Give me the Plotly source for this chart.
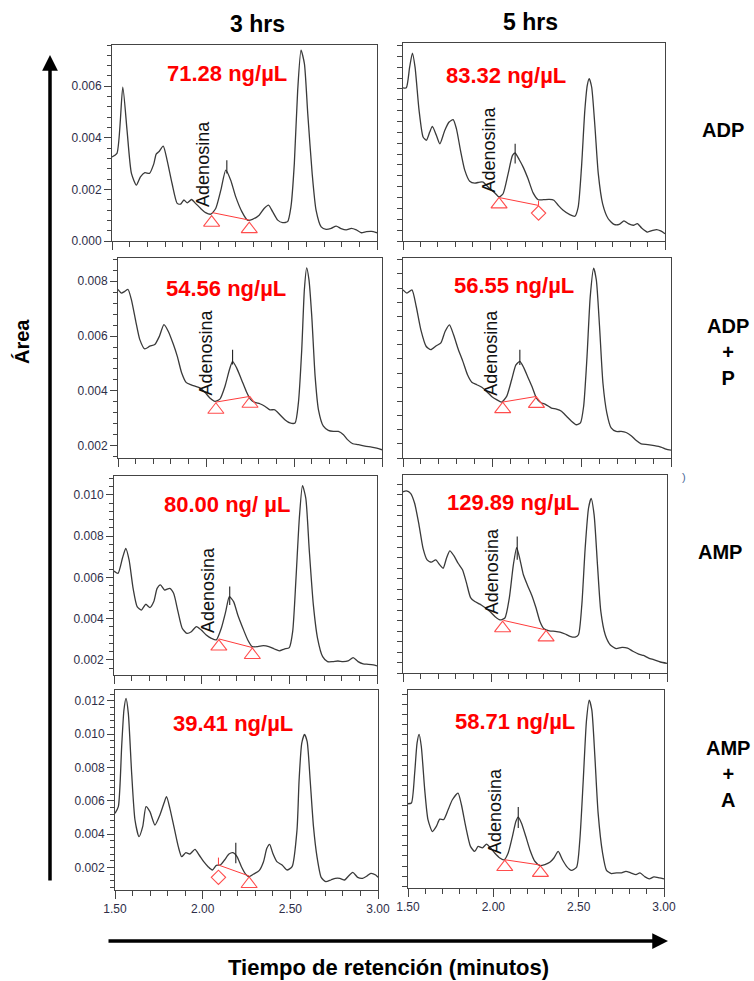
import plotly.graph_objects as go

W, H = 754, 981
FONT = "Arial, Liberation Sans, sans-serif"

# ---------------- data ----------------
col_titles = ["3 hrs", "5 hrs"]
row_titles = ["ADP", "ADP<br>+<br>P", "AMP", "AMP<br>+<br>A"]
concentrations = ["71.28 ng/µL", "83.32 ng/µL", "54.56 ng/µL", "56.55 ng/µL",
                  "80.00 ng/ µL", "129.89 ng/µL", "39.41 ng/µL", "58.71 ng/µL"]
peak_name = "Adenosina"
x_tick_vals = [1.5, 2.0, 2.5, 3.0]

# chromatograms: (retention time [min], area/absorbance)
adp_3h = [(1.50, 0.00326), (1.528, 0.0034), (1.561, 0.00597), (1.585, 0.0043), (1.61, 0.00262),
          (1.638, 0.00217), (1.661, 0.00249), (1.686, 0.00265), (1.712, 0.00262), (1.737, 0.0030),
          (1.75, 0.00337), (1.765, 0.00346), (1.79, 0.00368), (1.812, 0.00313), (1.84, 0.00223),
          (1.869, 0.00146), (1.888, 0.00143), (1.907, 0.00159), (1.926, 0.00148), (1.95, 0.00161),
          (1.973, 0.00146), (2.002, 0.00126), (2.03, 0.0011), (2.059, 0.00104), (2.087, 0.00126),
          (2.116, 0.00197), (2.144, 0.00275), (2.172, 0.00236), (2.2, 0.00172), (2.235, 0.00114),
          (2.267, 0.00081), (2.295, 0.00084), (2.333, 0.0010), (2.361, 0.00126), (2.386, 0.00139),
          (2.409, 0.00114), (2.438, 0.00081), (2.466, 0.00071), (2.494, 0.00075), (2.513, 0.00133),
          (2.532, 0.0030), (2.551, 0.00584), (2.57, 0.0074), (2.589, 0.00688), (2.608, 0.00494),
          (2.633, 0.00262), (2.655, 0.0012), (2.684, 0.00055), (2.712, 0.00045), (2.741, 0.00049),
          (2.769, 0.00058), (2.797, 0.00048), (2.826, 0.00043), (2.855, 0.00049), (2.883, 0.00043),
          (2.911, 0.00032), (2.94, 0.00036), (2.968, 0.00037), (3.0, 0.00032)]

adp_5h = [(1.5, 0.00604), (1.519, 0.00604), (1.538, 0.0068), (1.554, 0.00732), (1.569, 0.0068),
          (1.592, 0.00521), (1.615, 0.00423), (1.634, 0.00411), (1.653, 0.00441), (1.668, 0.00462),
          (1.691, 0.00429), (1.711, 0.00398), (1.739, 0.00447), (1.764, 0.00478), (1.787, 0.00487),
          (1.806, 0.00453), (1.829, 0.00374), (1.854, 0.0030), (1.882, 0.0026), (1.911, 0.00253),
          (1.94, 0.00257), (1.959, 0.00257), (1.978, 0.00245), (1.997, 0.00233), (2.026, 0.00217),
          (2.05, 0.00202), (2.073, 0.00214), (2.102, 0.00288), (2.127, 0.00355), (2.142, 0.00364),
          (2.165, 0.0034), (2.188, 0.00312), (2.216, 0.00269), (2.245, 0.00217), (2.274, 0.00192),
          (2.303, 0.00192), (2.337, 0.00193), (2.364, 0.0019), (2.389, 0.00171), (2.417, 0.00153),
          (2.455, 0.00137), (2.484, 0.00131), (2.503, 0.00165), (2.522, 0.00312), (2.541, 0.00521),
          (2.555, 0.00613), (2.566, 0.00638), (2.58, 0.00607), (2.599, 0.0046), (2.618, 0.00288),
          (2.643, 0.00177), (2.675, 0.00122), (2.708, 0.00101), (2.738, 0.00101), (2.765, 0.00114),
          (2.79, 0.00104), (2.819, 0.00098), (2.842, 0.00104), (2.866, 0.00088), (2.899, 0.00073),
          (2.929, 0.00079), (2.952, 0.00082), (2.975, 0.00077), (3.0, 0.00067)]

adpp_3h = [(1.5, 0.0077), (1.519, 0.00757), (1.538, 0.00763), (1.557, 0.0077), (1.576, 0.00733),
           (1.601, 0.00654), (1.624, 0.00587), (1.652, 0.00553), (1.681, 0.00563), (1.709, 0.00569),
           (1.735, 0.00599), (1.761, 0.00642), (1.786, 0.00617), (1.815, 0.00569), (1.837, 0.00526),
           (1.862, 0.00465), (1.887, 0.00431), (1.913, 0.00423), (1.938, 0.00417), (1.965, 0.00411),
           (1.994, 0.00395), (2.022, 0.00374), (2.051, 0.00362), (2.079, 0.0037), (2.108, 0.00417),
           (2.133, 0.00477), (2.151, 0.00508), (2.174, 0.00484), (2.202, 0.00441), (2.229, 0.00398),
           (2.252, 0.0037), (2.277, 0.00358), (2.306, 0.00353), (2.334, 0.00344), (2.363, 0.00331),
           (2.391, 0.00331), (2.42, 0.00313), (2.448, 0.00295), (2.477, 0.00283), (2.506, 0.00283),
           (2.525, 0.00356), (2.544, 0.0055), (2.559, 0.0077), (2.572, 0.00849), (2.585, 0.00806),
           (2.601, 0.00672), (2.62, 0.00453), (2.639, 0.00331), (2.667, 0.00271), (2.695, 0.00256),
           (2.724, 0.00252), (2.752, 0.00252), (2.781, 0.0024), (2.804, 0.00222), (2.834, 0.00207),
           (2.866, 0.00204), (2.903, 0.00198), (2.941, 0.00195), (2.97, 0.00191), (3.0, 0.00185)]

adpp_5h = [(1.5, 0.00635), (1.522, 0.00626), (1.55, 0.00635), (1.574, 0.00588), (1.6, 0.00522),
           (1.63, 0.00475), (1.656, 0.00466), (1.686, 0.00477), (1.712, 0.00485), (1.736, 0.00518),
           (1.76, 0.00536), (1.783, 0.00508), (1.81, 0.00466), (1.835, 0.00433), (1.861, 0.00395),
           (1.885, 0.00374), (1.913, 0.00367), (1.941, 0.0036), (1.968, 0.00348), (1.996, 0.00334),
           (2.024, 0.00325), (2.052, 0.00318), (2.08, 0.00334), (2.108, 0.00381), (2.132, 0.00423),
           (2.154, 0.00433), (2.177, 0.00414), (2.201, 0.00386), (2.225, 0.00358), (2.247, 0.00329),
           (2.27, 0.00317), (2.299, 0.00311), (2.331, 0.00301), (2.359, 0.00298), (2.387, 0.00292),
           (2.415, 0.00278), (2.443, 0.00264), (2.47, 0.00254), (2.493, 0.00259), (2.511, 0.00306),
           (2.53, 0.00447), (2.548, 0.00616), (2.567, 0.00696), (2.582, 0.00663), (2.6, 0.00532),
           (2.619, 0.00372), (2.641, 0.00287), (2.665, 0.00245), (2.693, 0.00235), (2.721, 0.00235),
           (2.749, 0.00232), (2.777, 0.00223), (2.804, 0.0021), (2.833, 0.002), (2.87, 0.00198),
           (2.907, 0.00195), (2.944, 0.00191), (2.972, 0.00185), (3.0, 0.00182)]

amp_3h = [(1.5, 0.00631), (1.523, 0.0062), (1.548, 0.00693), (1.567, 0.00741), (1.586, 0.00685),
          (1.609, 0.00547), (1.632, 0.00459), (1.656, 0.00442), (1.681, 0.0047), (1.705, 0.00454),
          (1.727, 0.00483), (1.746, 0.00547), (1.765, 0.00564), (1.789, 0.00539), (1.818, 0.00547),
          (1.84, 0.00523), (1.865, 0.00434), (1.889, 0.00354), (1.916, 0.00329), (1.941, 0.00337),
          (1.97, 0.00362), (1.998, 0.00345), (2.026, 0.00321), (2.055, 0.00305), (2.083, 0.00297),
          (2.112, 0.00354), (2.137, 0.00434), (2.158, 0.00507), (2.182, 0.00483), (2.206, 0.00418),
          (2.235, 0.00354), (2.263, 0.00297), (2.288, 0.00265), (2.32, 0.00265), (2.352, 0.00269),
          (2.383, 0.00265), (2.415, 0.00253), (2.443, 0.00244), (2.471, 0.00253), (2.5, 0.0026),
          (2.519, 0.00337), (2.538, 0.00596), (2.557, 0.00887), (2.575, 0.01045), (2.594, 0.00984),
          (2.613, 0.00741), (2.637, 0.00467), (2.661, 0.00305), (2.69, 0.00216), (2.718, 0.00192),
          (2.747, 0.00192), (2.777, 0.00195), (2.806, 0.00192), (2.835, 0.00195), (2.864, 0.00211),
          (2.892, 0.00192), (2.921, 0.00181), (2.95, 0.00179), (2.979, 0.00176), (3.0, 0.00171)]

amp_5h = [(1.5, 0.00812), (1.519, 0.00815), (1.543, 0.00806), (1.566, 0.00768), (1.591, 0.00685),
          (1.614, 0.00596), (1.637, 0.00552), (1.661, 0.00543), (1.686, 0.00552), (1.709, 0.00533),
          (1.728, 0.0052), (1.747, 0.00558), (1.766, 0.00586), (1.789, 0.00568), (1.813, 0.00539),
          (1.838, 0.00514), (1.861, 0.00463), (1.884, 0.00408), (1.908, 0.00393), (1.937, 0.00383),
          (1.965, 0.0037), (1.994, 0.00355), (2.022, 0.00336), (2.051, 0.00323), (2.079, 0.0033),
          (2.104, 0.00406), (2.127, 0.00533), (2.146, 0.00599), (2.165, 0.00552), (2.184, 0.00495),
          (2.206, 0.00457), (2.231, 0.00418), (2.256, 0.00368), (2.278, 0.00317), (2.301, 0.00289),
          (2.332, 0.00281), (2.364, 0.00279), (2.392, 0.00276), (2.421, 0.00269), (2.449, 0.0026),
          (2.478, 0.00257), (2.497, 0.00266), (2.516, 0.0038), (2.535, 0.00596), (2.554, 0.00749),
          (2.569, 0.00787), (2.586, 0.00723), (2.605, 0.00533), (2.624, 0.00355), (2.649, 0.00266),
          (2.677, 0.00228), (2.711, 0.00213), (2.744, 0.00218), (2.776, 0.00215), (2.806, 0.00203),
          (2.839, 0.00192), (2.867, 0.00187), (2.896, 0.00177), (2.924, 0.00171), (2.962, 0.00162),
          (3.0, 0.00157)]

ampa_3h = [(1.5, 0.00524), (1.519, 0.00564), (1.538, 0.00924), (1.551, 0.01144), (1.563, 0.01214),
           (1.576, 0.01124), (1.595, 0.00764), (1.614, 0.00484), (1.637, 0.00384), (1.658, 0.00444),
           (1.677, 0.00564), (1.699, 0.00534), (1.728, 0.00454), (1.756, 0.00514), (1.779, 0.00584),
           (1.794, 0.00624), (1.813, 0.00554), (1.836, 0.00444), (1.861, 0.00324), (1.88, 0.00264),
           (1.904, 0.00288), (1.927, 0.0028), (1.956, 0.00308), (1.98, 0.00274), (2.006, 0.00234),
           (2.031, 0.00204), (2.055, 0.00184), (2.078, 0.00212), (2.101, 0.00214), (2.125, 0.00244),
           (2.15, 0.0028), (2.173, 0.00288), (2.196, 0.00264), (2.221, 0.00204), (2.246, 0.00158),
           (2.265, 0.00144), (2.291, 0.0016), (2.322, 0.0018), (2.347, 0.00234), (2.366, 0.00314),
           (2.382, 0.00338), (2.4, 0.00284), (2.423, 0.00234), (2.453, 0.00214), (2.481, 0.00184),
           (2.51, 0.00204), (2.538, 0.00424), (2.55, 0.00724), (2.565, 0.00944), (2.581, 0.00998),
           (2.596, 0.00954), (2.613, 0.00724), (2.632, 0.00444), (2.652, 0.00264), (2.676, 0.0014),
           (2.702, 0.00114), (2.731, 0.00124), (2.757, 0.00134), (2.782, 0.00134), (2.81, 0.00124),
           (2.832, 0.00148), (2.856, 0.0017), (2.884, 0.0014), (2.912, 0.00134), (2.937, 0.00148),
           (2.959, 0.00164), (2.987, 0.00154), (3.0, 0.0014)]

ampa_5h = [(1.5, 0.00327), (1.52, 0.0033), (1.539, 0.00448), (1.553, 0.00567), (1.565, 0.00602),
           (1.578, 0.00554), (1.598, 0.00382), (1.617, 0.00264), (1.643, 0.00217), (1.666, 0.00237),
           (1.686, 0.00266), (1.709, 0.00264), (1.735, 0.00303), (1.76, 0.00343), (1.793, 0.00369),
           (1.813, 0.00323), (1.838, 0.00237), (1.866, 0.00158), (1.891, 0.00138), (1.911, 0.00158),
           (1.936, 0.00152), (1.96, 0.00167), (1.983, 0.00152), (2.008, 0.00132), (2.038, 0.00112),
           (2.063, 0.00105), (2.087, 0.00132), (2.112, 0.00198), (2.132, 0.00257), (2.146, 0.00274),
           (2.165, 0.0025), (2.19, 0.00198), (2.214, 0.00145), (2.243, 0.00099), (2.273, 0.00082),
           (2.302, 0.00086), (2.331, 0.00095), (2.355, 0.00112), (2.38, 0.00138), (2.405, 0.00105),
           (2.429, 0.00079), (2.458, 0.00063), (2.488, 0.00076), (2.507, 0.00185), (2.527, 0.00422),
           (2.546, 0.00659), (2.562, 0.00738), (2.577, 0.00699), (2.595, 0.00514), (2.614, 0.0029),
           (2.64, 0.00132), (2.663, 0.00063), (2.692, 0.0005), (2.722, 0.00053), (2.751, 0.00053),
           (2.777, 0.00059), (2.805, 0.00053), (2.836, 0.00046), (2.859, 0.00053), (2.889, 0.00037),
           (2.914, 0.00029), (2.941, 0.00037), (2.973, 0.00033), (3.0, 0.00029)]

# integration baselines (start point, end point)
baselines = [
    [(2.068, 0.0011), (2.277, 0.00081)],
    [(2.05, 0.0020), (2.276, 0.00171)],
    [(2.056, 0.00359), (2.25, 0.0038)],
    [(2.058, 0.00318), (2.247, 0.00334)],
    [(2.098, 0.00302), (2.289, 0.0026)],
    [(2.07, 0.00321), (2.307, 0.00285)],
    [(2.09, 0.00214), (2.265, 0.00148)],
    [(2.067, 0.00105), (2.276, 0.00084)],
]
# start / end event markers
event_marks = [
    [(2.064, 0.00071), (2.277, 0.00046)],
    [(2.05, 0.00175), (2.276, 0.00143)],
    [(2.056, 0.00331), (2.25, 0.00353)],
    [(2.058, 0.00298), (2.247, 0.00313)],
    [(2.098, 0.00265), (2.289, 0.00224)],
    [(2.066, 0.00291), (2.313, 0.00256)],
    [(2.09, 0.0014), (2.265, 0.0010)],
    [(2.067, 0.00076), (2.276, 0.00053)],
]
# apex tick: (time, low, high)
apex_ticks = [(2.15, 0.00262, 0.00313), (2.142, 0.00325, 0.00398), (2.151, 0.00496, 0.0055),
              (2.154, 0.00423, 0.00466), (2.16, 0.00467, 0.00556), (2.149, 0.00552, 0.00641),
              (2.189, 0.00224, 0.00348), (2.146, 0.00231, 0.00314)]

curves = [adp_3h, adp_5h, adpp_3h, adpp_5h, amp_3h, amp_5h, ampa_3h, ampa_5h]

# ---------------- layout settings (page pixels) ----------------
boxes = [(112, 377, 45, 241), (403, 665, 43, 241),
         (118, 382, 258, 458), (403, 671, 258, 458),
         (114, 377, 476, 675), (403, 667, 475, 673),
         (115, 378, 690, 890), (408, 664, 690, 888)]
y_ranges = [(0.0, 0.0076), (0.0004, 0.00769), (0.00155, 0.00885), (0.0016, 0.00725),
            (0.00127, 0.01092), (0.0012, 0.00876), (0.00064, 0.01264), (-0.00007, 0.00778)]
mark_symbols = [("triangle-up-open", "triangle-up-open"), ("triangle-up-open", "diamond-open"),
                ("triangle-up-open", "triangle-up-open"), ("triangle-up-open", "triangle-up-open"),
                ("triangle-up-open", "triangle-up-open"), ("triangle-up-open", "triangle-up-open"),
                ("diamond-open", "triangle-up-open"), ("triangle-up-open", "triangle-up-open")]
label_pos = [(2.011, 0.0030), (1.993, 0.00377), (2.003, 0.00538), (1.996, 0.00456),
             (2.036, 0.00539), (2.003, 0.00507), None, (2.014, 0.00297)]
conc_px = [(227, 73), (506, 75), (226, 288), (514, 286),
           (227, 505), (513, 502), (233, 723), (515, 721)]


def px(x):
    return x / W


def py(y):
    return 1 - y / H


def text_ann(x, y, text, size, color="#000000", angle=0, xref="paper", yref="paper"):
    return dict(x=x, y=y, xref=xref, yref=yref, text=text, showarrow=False,
                xanchor="center", yanchor="middle", textangle=angle, align="center",
                font=dict(family=FONT, size=size, color=color))


fig = go.Figure()
annotations = []
layout_axes = {}
LINE = "#3a3a3a"
RED = "#ff3b3b"
TICKC = "#2e2e48"

for i, (curve, box) in enumerate(zip(curves, boxes)):
    n = i + 1
    xa = "x" if n == 1 else f"x{n}"
    ya = "y" if n == 1 else f"y{n}"
    left_col = (i % 2 == 0)
    bottom_row = (i >= 6)
    l, r, t, b = box

    fig.add_trace(go.Scatter(x=[p[0] for p in curve], y=[p[1] for p in curve],
                             mode="lines", line=dict(color=LINE, width=1.3, shape="spline", smoothing=0.6),
                             xaxis=xa, yaxis=ya, showlegend=False, hoverinfo="skip"))
    bl = baselines[i]
    fig.add_trace(go.Scatter(x=[p[0] for p in bl], y=[p[1] for p in bl], mode="lines",
                             line=dict(color=RED, width=1), xaxis=xa, yaxis=ya,
                             showlegend=False, hoverinfo="skip"))
    em = event_marks[i]
    for (mt, ma), sym in zip(em, mark_symbols[i]):
        fig.add_trace(go.Scatter(x=[mt], y=[ma], mode="markers",
                                 marker=dict(symbol=sym, size=14 if "triangle" in sym else 11,
                                             color="#ff4d4d", line=dict(width=1.1, color="#ff4d4d")),
                                 xaxis=xa, yaxis=ya, showlegend=False, hoverinfo="skip"))
        if sym == "diamond-open":
            bp = bl[0] if abs(bl[0][0] - mt) < abs(bl[1][0] - mt) else bl[1]
            fig.add_trace(go.Scatter(x=[bp[0], bp[0]], y=[bp[1], bp[1] + (bp[1] - ma) * 0.6],
                                     mode="lines", line=dict(color=RED, width=1),
                                     xaxis=xa, yaxis=ya, showlegend=False, hoverinfo="skip"))
    at, alo, ahi = apex_ticks[i]
    fig.add_trace(go.Scatter(x=[at, at], y=[alo, ahi], mode="lines",
                             line=dict(color="#222222", width=1.1), xaxis=xa, yaxis=ya,
                             showlegend=False, hoverinfo="skip"))

    if label_pos[i] is not None:
        annotations.append(text_ann(label_pos[i][0], label_pos[i][1], peak_name, 18,
                                    color="#111111", angle=-90, xref=xa, yref=ya))
    cx, cy = conc_px[i]
    annotations.append(text_ann(px(cx), py(cy), f"<b>{concentrations[i]}</b>", 22, color="#ff0000"))

    xkey = "xaxis" if n == 1 else f"xaxis{n}"
    ykey = "yaxis" if n == 1 else f"yaxis{n}"
    layout_axes[xkey] = dict(
        domain=[px(l), px(r)], range=[1.5, 3.0], anchor=ya, automargin=False,
        showline=True, mirror=True, linecolor="#444444", linewidth=1,
        ticks="outside", ticklen=8, tickwidth=1, tickcolor="#444444",
        tickvals=x_tick_vals, tickformat=".2f",
        minor=dict(dtick=0.1, tick0=1.5, ticks="outside", ticklen=5, tickcolor="#444444"),
        showticklabels=bottom_row, showgrid=False, zeroline=False,
        tickfont=dict(family=FONT, size=12, color=TICKC),
    )
    if left_col:
        ycfg = dict(ticks="outside", ticklen=7, dtick=0.002, tick0=0, tickformat=".3f",
                    minor=dict(dtick=0.0004, tick0=0, ticks="outside", ticklen=4, tickcolor="#444444"),
                    showticklabels=True)
    else:
        ycfg = dict(ticks="outside", ticklen=5, dtick=0.0004, tick0=0, showticklabels=False)
    layout_axes[ykey] = dict(
        domain=[py(b), py(t)], range=list(y_ranges[i]), anchor=xa, automargin=False,
        showline=True, mirror=True, linecolor="#444444", linewidth=1,
        tickwidth=1, tickcolor="#444444", showgrid=False, zeroline=False,
        tickfont=dict(family=FONT, size=12, color=TICKC), **ycfg)

# column titles
for txt, (cx, cy) in zip(col_titles, [(257, 24), (530, 22)]):
    annotations.append(text_ann(px(cx), py(cy), f"<b>{txt}</b>", 23))
# row titles
for txt, (cx, cy) in zip(row_titles, [(723, 130), (728, 352), (720, 552), (728, 774)]):
    annotations.append(text_ann(px(cx), py(cy), f"<b>{txt}</b>", 20))
# stray bracket visible at the right of the AMP 3 hrs panel in the source
annotations.append(text_ann(px(684), py(477), ")", 11, color="#4a6a9a"))
# axis titles
annotations.append(text_ann(px(22), py(342), "<b>Área</b>", 20, angle=-90))
annotations.append(text_ann(px(388), py(967), "<b>Tiempo de retención (minutos)</b>", 22))
# big arrows
annotations.append(dict(x=px(50), y=py(55), xref="paper", yref="paper", text="", showarrow=True,
                        ax=0, ay=882 - 55, axref="pixel", ayref="pixel", arrowhead=2, arrowsize=0.9,
                        arrowwidth=3.5, arrowcolor="#000000", standoff=0))
annotations.append(dict(x=px(668), y=py(941), xref="paper", yref="paper", text="", showarrow=True,
                        ax=107 - 668, ay=0, axref="pixel", ayref="pixel", arrowhead=2, arrowsize=0.9,
                        arrowwidth=3.5, arrowcolor="#000000", standoff=0))

fig.update_layout(width=W, height=H, margin=dict(l=0, r=0, t=0, b=0, autoexpand=False),
                  template="none", paper_bgcolor="white", plot_bgcolor="white",
                  showlegend=False, hovermode=False, annotations=annotations, **layout_axes)

# remove the page's default body margin / scrollbars so the figure sits at (0, 0)
page_css = ("document.documentElement.style.overflow='hidden';"
            "document.body.style.overflow='hidden';"
            "document.body.style.margin='0';"
            "document.body.style.padding='0';")
fig.write_html("out.html", post_script=page_css,
               config={"displayModeBar": False, "staticPlot": True})
